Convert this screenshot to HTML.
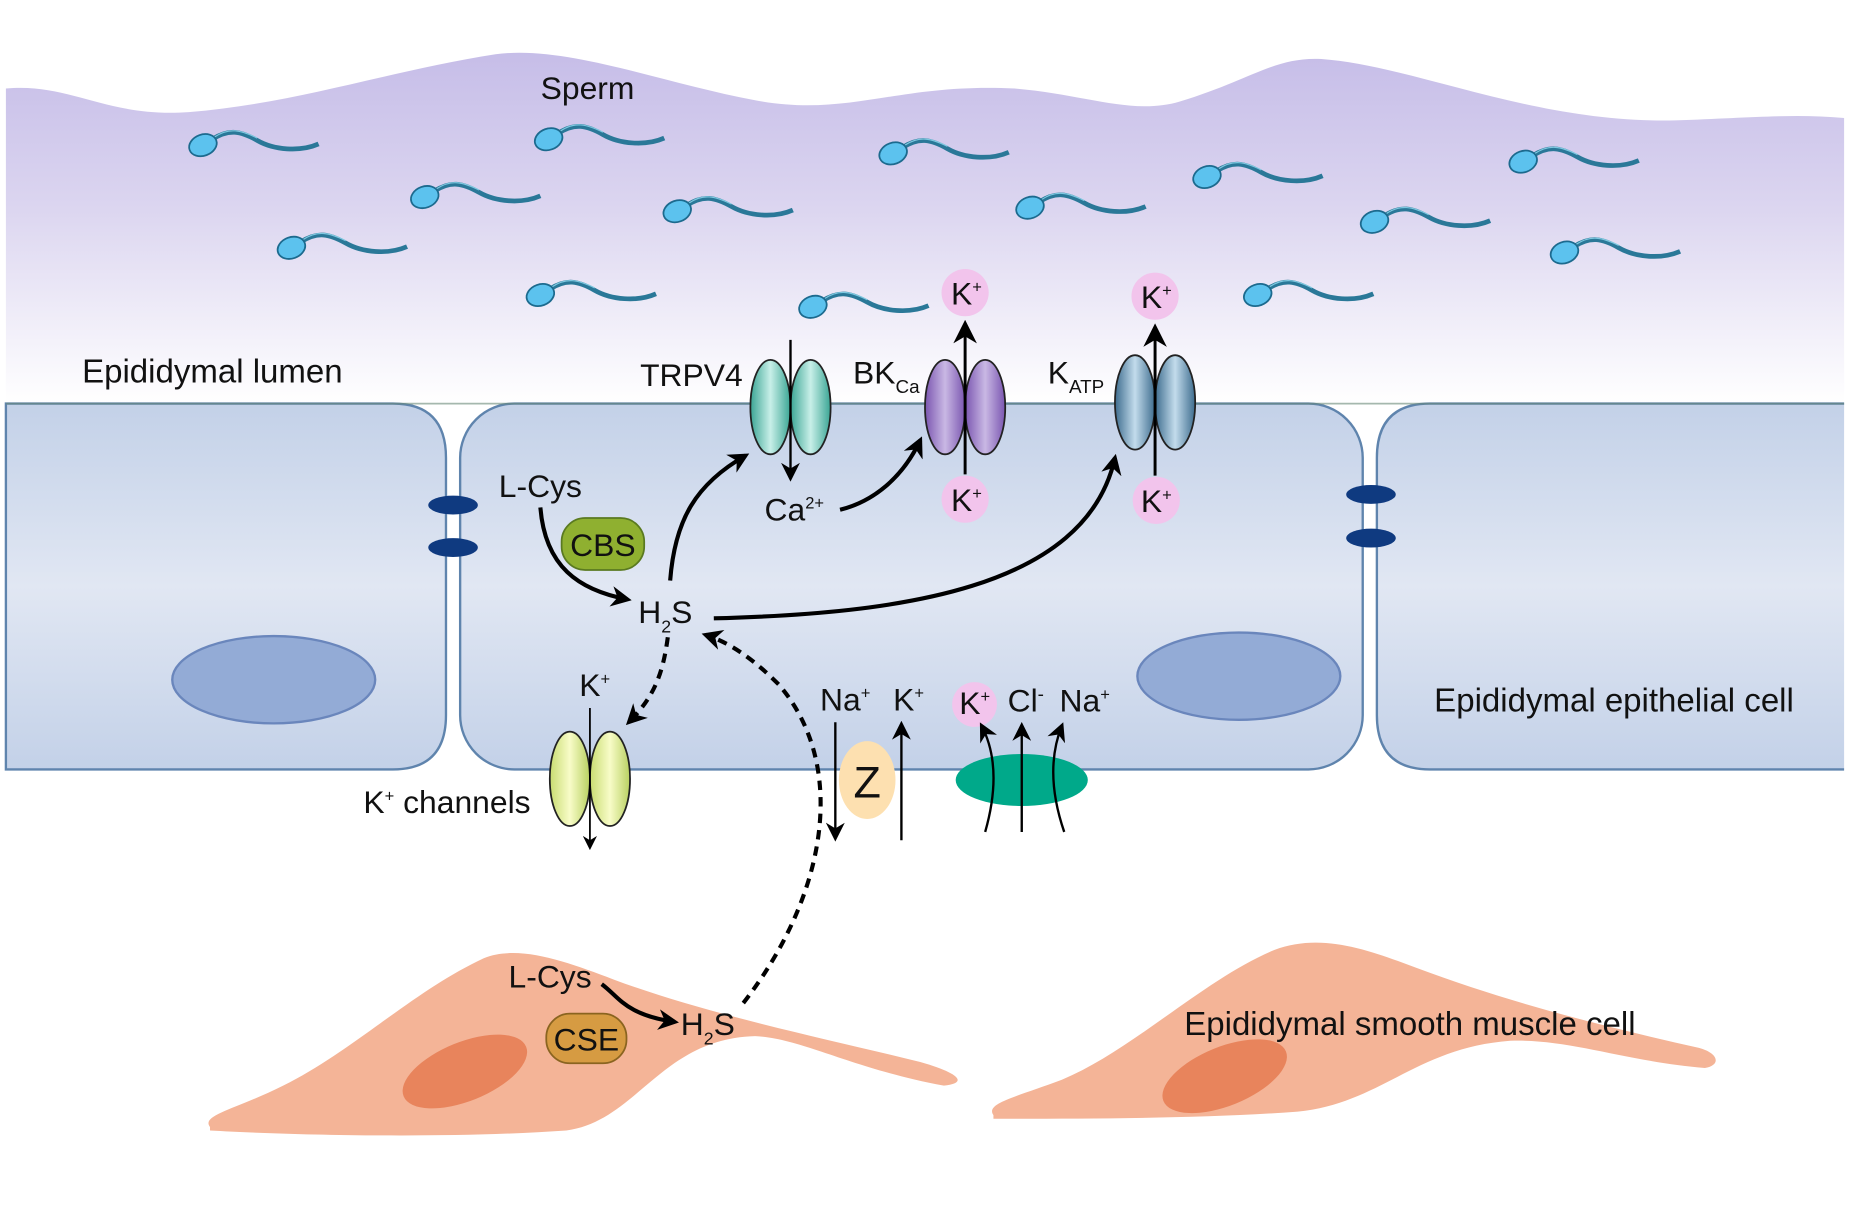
<!DOCTYPE html>
<html><head><meta charset="utf-8"><style>html,body{margin:0;padding:0;background:#fff}svg{display:block}</style></head>
<body>
<svg width="1850" height="1219" viewBox="0 0 1568 1033" preserveAspectRatio="none" xmlns="http://www.w3.org/2000/svg" font-family="Liberation Sans, sans-serif">
<defs>
<linearGradient id="lum" x1="0" y1="0" x2="0" y2="1"><stop offset="0" stop-color="#c6bde8"/><stop offset="0.45" stop-color="#dcd6f0"/><stop offset="1" stop-color="#ffffff"/></linearGradient>
<linearGradient id="cell" x1="0" y1="0" x2="0" y2="1"><stop offset="0" stop-color="#c3d1e8"/><stop offset="0.5" stop-color="#e1e7f3"/><stop offset="1" stop-color="#c3d1e8"/></linearGradient>
<linearGradient id="gT" x1="0" x2="1"><stop offset="0" stop-color="#3aa594"/><stop offset="0.5" stop-color="#c8efe8"/><stop offset="1" stop-color="#3aa594"/></linearGradient>
<linearGradient id="gB" x1="0" x2="1"><stop offset="0" stop-color="#7a55b0"/><stop offset="0.5" stop-color="#c9b8e4"/><stop offset="1" stop-color="#7a55b0"/></linearGradient>
<linearGradient id="gK" x1="0" x2="1"><stop offset="0" stop-color="#3d6c8e"/><stop offset="0.5" stop-color="#c3dcec"/><stop offset="1" stop-color="#3d6c8e"/></linearGradient>
<linearGradient id="gY" x1="0" x2="1"><stop offset="0" stop-color="#c8dc70"/><stop offset="0.5" stop-color="#f8fcc8"/><stop offset="1" stop-color="#b8d060"/></linearGradient>
<g id="sp"><path d="M8,-5 C22,-14 32,-12 46,-4 C60,4 82,6 98,-1" fill="none" stroke="#2a7898" stroke-width="4"/><path d="M10,-7 C22,-15 32,-13 46,-6" fill="none" stroke="#7ec8e0" stroke-width="1"/><ellipse cx="0" cy="0" rx="12" ry="9" transform="rotate(-20)" fill="#5cc2ee" stroke="#1c6a8e" stroke-width="1.5"/></g>
<marker id="ah" viewBox="0 0 10 10" refX="8" refY="5" markerWidth="5" markerHeight="5" orient="auto"><path d="M0,0 L10,5 L0,10 L3,5z" fill="#000"/></marker>
<marker id="ahs" viewBox="0 0 10 10" refX="8" refY="5" markerWidth="8" markerHeight="8" orient="auto"><path d="M0,0 L10,5 L0,10 L3,5z" fill="#000"/></marker>
</defs>
<path d="M5,75 C60,70 90,100 160,95 C250,88 330,60 420,46 C480,38 560,70 640,85 C720,100 760,70 860,75 C920,80 960,98 1000,86 C1060,68 1080,48 1120,50 C1200,56 1300,105 1420,102 C1480,100 1520,96 1563,100 L1563,342 L5,342 Z" fill="url(#lum)"/>
<path d="M5,342 L333,342 Q378,342 378,388 L378,606 Q378,652 333,652 L5,652 Z" fill="url(#cell)" stroke="#5f84ad" stroke-width="2"/>
<rect x="390" y="342" width="765" height="310" rx="46" fill="url(#cell)" stroke="#5f84ad" stroke-width="2"/>
<path d="M1563,342 L1212,342 Q1167,342 1167,388 L1167,606 Q1167,652 1212,652 L1563,652" fill="url(#cell)" stroke="#5f84ad" stroke-width="2"/>
<line x1="5" y1="342" x2="1563" y2="342" stroke="#6a8a7a" stroke-width="1.5" opacity="0.6"/>
<ellipse cx="384" cy="428" rx="21" ry="8" fill="#0f3a80"/><ellipse cx="384" cy="464" rx="21" ry="8" fill="#0f3a80"/>
<ellipse cx="1162" cy="419" rx="21" ry="8" fill="#0f3a80"/><ellipse cx="1162" cy="456" rx="21" ry="8" fill="#0f3a80"/>
<ellipse cx="232" cy="576" rx="86" ry="37" fill="#93abd6" stroke="#6a86bc" stroke-width="2"/>
<ellipse cx="1050" cy="573" rx="86" ry="37" fill="#93abd6" stroke="#6a86bc" stroke-width="2"/>
<use href="#sp" x="172" y="123"/><use href="#sp" x="465" y="118"/><use href="#sp" x="757" y="130"/><use href="#sp" x="360" y="167"/><use href="#sp" x="574" y="179"/><use href="#sp" x="873" y="176"/><use href="#sp" x="1023" y="150"/><use href="#sp" x="1291" y="137"/><use href="#sp" x="1165" y="188"/><use href="#sp" x="1326" y="214"/><use href="#sp" x="247" y="210"/><use href="#sp" x="458" y="250"/><use href="#sp" x="689" y="260"/><use href="#sp" x="1066" y="250"/>
<path d="M178,955 C170,945 200,940 240,920 C300,890 350,840 410,812 C440,800 480,815 520,830 C600,860 700,880 780,900 C815,910 820,918 800,920 C720,905 680,880 640,878 C560,880 540,950 480,958 C380,965 250,962 178,958 Z" fill="#f4b497"/>
<ellipse cx="394" cy="908" rx="56" ry="25" transform="rotate(-22 394 908)" fill="#e8845c"/>
<path d="M842,945 C835,935 860,930 900,915 C960,890 1020,830 1080,805 C1120,790 1160,805 1200,820 C1280,850 1360,870 1440,888 C1458,893 1458,903 1445,905 C1380,900 1330,880 1280,882 C1200,888 1170,935 1100,942 C1020,948 920,948 842,948 Z" fill="#f4b497"/>
<ellipse cx="1038" cy="912" rx="56" ry="25" transform="rotate(-22 1038 912)" fill="#e8845c"/>
<g stroke="#222" stroke-width="1.5">
<ellipse cx="653" cy="345" rx="17" ry="40" fill="url(#gT)"/><ellipse cx="687" cy="345" rx="17" ry="40" fill="url(#gT)"/>
<ellipse cx="801" cy="345" rx="17" ry="40" fill="url(#gB)"/><ellipse cx="835" cy="345" rx="17" ry="40" fill="url(#gB)"/>
<ellipse cx="962" cy="341" rx="17" ry="40" fill="url(#gK)"/><ellipse cx="996" cy="341" rx="17" ry="40" fill="url(#gK)"/>
<ellipse cx="483" cy="660" rx="17" ry="40" fill="url(#gY)"/><ellipse cx="517" cy="660" rx="17" ry="40" fill="url(#gY)"/>
</g>
<g fill="#f2c4ec"><circle cx="818" cy="248" r="20"/><circle cx="979" cy="251" r="20"/><circle cx="818" cy="423" r="20"/><circle cx="980" cy="424" r="20"/><circle cx="826" cy="597" r="19"/></g>
<ellipse cx="735" cy="661" rx="24" ry="33" fill="#fde0b0"/>
<ellipse cx="866" cy="661" rx="56" ry="22" fill="#00a98a"/>
<rect x="476" y="439" width="70" height="44" rx="20" fill="#8fb030" stroke="#5a7a20" stroke-width="1.5"/>
<rect x="463" y="859" width="68" height="42" rx="20" fill="#d69b42" stroke="#8a6420" stroke-width="1.5"/>
<g fill="none" stroke="#000">
<line x1="670" y1="288" x2="670" y2="405" stroke-width="2" marker-end="url(#ahs)"/>
<line x1="818" y1="402" x2="818" y2="275" stroke-width="2.5" marker-end="url(#ahs)"/>
<line x1="979" y1="403" x2="979" y2="278" stroke-width="2.5" marker-end="url(#ahs)"/>
<line x1="500" y1="600" x2="500" y2="718" stroke-width="1.5" marker-end="url(#ahs)"/>
<path d="M568,492 C572,440 590,410 632,386" stroke-width="3.5" marker-end="url(#ah)"/>
<path d="M712,432 C740,425 765,405 780,373" stroke-width="3.5" marker-end="url(#ah)"/>
<path d="M605,524 C760,520 920,500 945,388" stroke-width="3.5" marker-end="url(#ah)"/>
<path d="M458,430 C462,480 490,500 532,508" stroke-width="3.5" marker-end="url(#ah)"/>
<path d="M566,540 C562,570 555,590 533,612" stroke-width="3.5" stroke-dasharray="8,6" marker-end="url(#ah)"/>
<path d="M630,850 C700,760 720,650 660,580 C640,560 620,545 598,538" stroke-width="3.5" stroke-dasharray="8,6" marker-end="url(#ah)"/>
<path d="M510,834 C525,845 530,860 572,866" stroke-width="3.5" marker-end="url(#ah)"/>
<line x1="708" y1="612" x2="708" y2="710" stroke-width="2" marker-end="url(#ahs)"/>
<line x1="764" y1="712" x2="764" y2="614" stroke-width="2" marker-end="url(#ahs)"/>
<path d="M835,705 C845,670 845,640 832,615" stroke-width="2" marker-end="url(#ahs)"/>
<line x1="866" y1="705" x2="866" y2="615" stroke-width="2" marker-end="url(#ahs)"/>
<path d="M902,705 C890,670 890,640 900,615" stroke-width="2" marker-end="url(#ahs)"/>
</g>
<g fill="#111" font-size="27">
<text x="498" y="84" text-anchor="middle">Sperm</text>
<text x="180" y="324" text-anchor="middle" font-size="28">Epididymal lumen</text>
<text x="1368" y="603" text-anchor="middle" font-size="28">Epididymal epithelial cell</text>
<text x="1195" y="877" text-anchor="middle" font-size="28">Epididymal smooth muscle cell</text>
<text x="586" y="327" text-anchor="middle">TRPV4</text>
<text x="723" y="325">BK<tspan font-size="16" dy="8">Ca</tspan></text>
<text x="888" y="325">K<tspan font-size="16" dy="8">ATP</tspan></text>
<text x="458" y="421" text-anchor="middle">L-Cys</text>
<text x="511" y="471" text-anchor="middle" font-size="27">CBS</text>
<text x="541" y="528">H<tspan font-size="15" dy="8">2</tspan><tspan dy="-8">S</tspan></text>
<text x="648" y="441">Ca<tspan font-size="14" dy="-10">2+</tspan></text>
<text x="806" y="258">K<tspan font-size="14" dy="-10">+</tspan></text>
<text x="967" y="261">K<tspan font-size="14" dy="-10">+</tspan></text>
<text x="806" y="433">K<tspan font-size="14" dy="-10">+</tspan></text>
<text x="967" y="434">K<tspan font-size="14" dy="-10">+</tspan></text>
<text x="491" y="590">K<tspan font-size="14" dy="-10">+</tspan></text>
<text x="308" y="689">K<tspan font-size="14" dy="-10">+</tspan><tspan dy="10"> channels</tspan></text>
<text x="695" y="602">Na<tspan font-size="14" dy="-10">+</tspan></text>
<text x="757" y="602">K<tspan font-size="14" dy="-10">+</tspan></text>
<text x="813" y="605">K<tspan font-size="14" dy="-10">+</tspan></text>
<text x="854" y="603">Cl<tspan font-size="16" dy="-10">-</tspan></text>
<text x="898" y="603">Na<tspan font-size="14" dy="-10">+</tspan></text>
<text x="735" y="676" text-anchor="middle" font-size="38">Z</text>
<text x="431" y="837">L-Cys</text>
<text x="497" y="890" text-anchor="middle" font-size="27">CSE</text>
<text x="577" y="877">H<tspan font-size="15" dy="8">2</tspan><tspan dy="-8">S</tspan></text>
</g>
</svg>
</body></html>
